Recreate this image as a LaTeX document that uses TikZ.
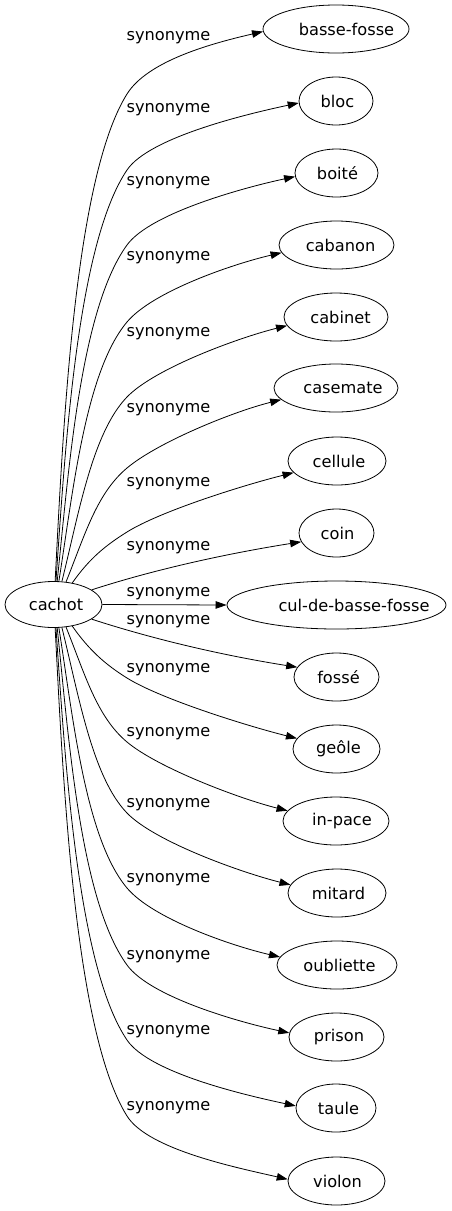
\documentclass[tikz,border=0pt]{standalone}
\usepackage{fontspec}
\setmainfont{DejaVu Sans}
\usetikzlibrary{shapes.geometric,arrows.meta}
\newcommand\cedge[9]{%
  \draw[syn] (cachot.#2) .. controls +(-#3:#6) and +(180-#5:#7) .. (127,#4)
    .. controls +(-#5:40) and +(180-#9:50) .. (#1.#8);}
\begin{document}
\begin{tikzpicture}[x=1pt,y=-1pt,
  txt/.style={font=\fontsize{16.2}{19}\selectfont, inner sep=0pt, text=black},
  word/.style={ellipse, draw, line width=0.8pt, inner sep=0pt, minimum height=48pt},
  syn/.style={line width=0.8pt, -{Triangle[length=11pt,width=7.5pt]}},
]
\useasboundingbox (0,0) rectangle (452,1211);
\fill[white] (0,0) rectangle (452,1211);

\node[word, minimum width=97pt, minimum height=46pt, label={[txt,xshift=2.5pt]center:cachot}] (cachot) at (53.5,604.5) {};

\node[word, minimum width=146pt, label={[txt,xshift=10.5pt]center:basse-fosse}] (n1) at (336,29) {};
\node[word, minimum width=74pt, label={[txt,xshift=1.5pt]center:bloc}] (n2) at (336,101) {};
\node[word, minimum width=83pt, label={[txt,xshift=1pt]center:boité}] (n3) at (336.5,173) {};
\node[word, minimum width=115pt, label={[txt,xshift=4pt]center:cabanon}] (n4) at (336.5,245) {};
\node[word, minimum width=104pt, label={[txt,xshift=4.5pt]center:cabinet}] (n5) at (336,317) {};
\node[word, minimum width=124pt, label={[txt,xshift=7pt]center:casemate}] (n6) at (336,388) {};
\node[word, minimum width=98pt, label={[txt,xshift=2pt]center:cellule}] (n7) at (337,461) {};
\node[word, minimum width=75pt, label={[txt,xshift=1pt]center:coin}] (n8) at (336.5,533) {};
\node[word, minimum width=219pt, label={[txt,xshift=17.5pt]center:cul-de-basse-fosse}] (n9) at (336.5,605) {};
\node[word, minimum width=85pt, label={[txt,xshift=2pt]center:fossé}] (n10) at (336.5,677) {};
\node[word, minimum width=87pt, label={[txt,xshift=2pt]center:geôle}] (n11) at (336.5,749) {};
\node[word, minimum width=106pt, label={[txt,xshift=6pt]center:in-pace}] (n12) at (336,821) {};
\node[word, minimum width=98pt, label={[txt,xshift=1.5pt]center:mitard}] (n13) at (337,893) {};
\node[word, minimum width=120pt, label={[txt,xshift=2.5pt]center:oubliette}] (n14) at (337,965) {};
\node[word, minimum width=95pt, label={[txt,xshift=2.5pt]center:prison}] (n15) at (336.5,1037) {};
\node[word, minimum width=80pt, label={[txt,xshift=2.5pt]center:taule}] (n16) at (336,1108) {};
\node[word, minimum width=97pt, label={[txt,xshift=1pt]center:violon}] (n17) at (336.5,1181) {};

% edge labels
\node[txt] (s1) at (168.5,38) {synonyme};
\node[txt] (s2) at (168.5,110) {synonyme};
\node[txt] (s3) at (168.5,183) {synonyme};
\node[txt] (s4) at (168.5,258) {synonyme};
\node[txt] (s5) at (168.5,334) {synonyme};
\node[txt] (s6) at (168.5,410) {synonyme};
\node[txt] (s7) at (168.5,484) {synonyme};
\node[txt] (s8) at (168.5,548) {synonyme};
\node[txt] (s9) at (168.5,594) {synonyme};
\node[txt] (s10) at (168.5,622) {synonyme};
\node[txt] (s11) at (168.5,670) {synonyme};
\node[txt] (s12) at (168.5,734) {synonyme};
\node[txt] (s13) at (168.5,805) {synonyme};
\node[txt] (s14) at (168.5,880) {synonyme};
\node[txt] (s15) at (168.5,957) {synonyme};
\node[txt] (s16) at (168.5,1032) {synonyme};
\node[txt] (s17) at (168.5,1108) {synonyme};

% edges
\cedge{n1}{86}{87}{94}{58}{150}{100}{182}{13}
\cedge{n2}{84}{86}{170}{56}{130}{90}{183}{12}
\cedge{n3}{81}{84}{245}{54}{110}{80}{185}{12}
\cedge{n4}{77}{81}{322}{50}{90}{65}{188}{13}
\cedge{n5}{70}{76}{397}{46}{70}{50}{190}{14}
\cedge{n6}{61}{68}{468}{40}{50}{40}{192}{14}
\cedge{n7}{49}{55}{532}{32}{30}{25}{195}{14}
\draw[syn] (cachot.21) .. controls +(-18:70) and +(171:70) .. (n8.194);
\draw[syn] (cachot.east) -- (n9.west);
\draw[syn] (cachot.339) .. controls +(18:70) and +(189:70) .. (n10.166);
\cedge{n11}{311}{-55}{678}{-32}{30}{25}{165}{-14}
\cedge{n12}{299}{-68}{742}{-40}{50}{40}{168}{-14}
\cedge{n13}{290}{-76}{813}{-46}{70}{50}{170}{-14}
\cedge{n14}{283}{-81}{888}{-50}{90}{65}{172}{-13}
\cedge{n15}{279}{-84}{965}{-54}{110}{80}{175}{-12}
\cedge{n16}{276}{-86}{1040}{-56}{130}{90}{177}{-12}
\cedge{n17}{274}{-87}{1116}{-58}{150}{100}{178}{-13}
\end{tikzpicture}
\end{document}
